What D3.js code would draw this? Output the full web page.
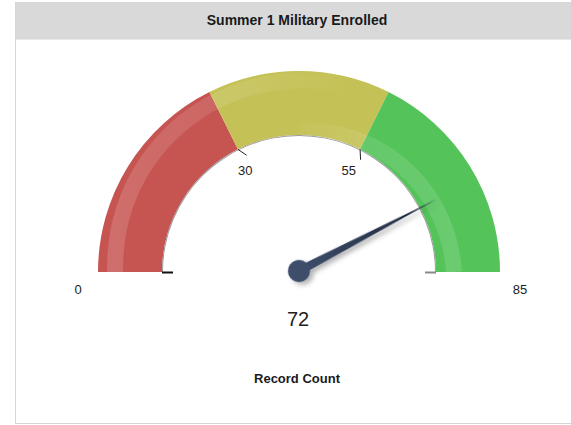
<!DOCTYPE html>
<html>
<head>
<meta charset="utf-8">
<script src="https://cdn.jsdelivr.net/npm/d3@7.9.0/dist/d3.min.js"></script>
<style>
  html, body { margin: 0; padding: 0; background: #fff; }
  svg { display: block; font-family: "Liberation Sans", Arial, sans-serif; }
</style>
</head>
<body>
<svg id="chart" width="571" height="425"></svg>
<script>
// gauge data
const title = "Summer 1 Military Enrolled";
const measureLabel = "Record Count";
const value = 72;
const rangeMin = 0;
const rangeMax = 85;
const bandStops = [0, 30, 55, 85];
const bandColors = ["#c65451", "#c4c156", "#54c35a"];
const tickValues = [30, 55];

const svg = d3.select("#chart");

// panel + header
svg.append("rect")
  .attr("x", 15.5).attr("y", 2.5)
  .attr("width", 570).attr("height", 421)
  .attr("fill", "#fff").attr("stroke", "#d6d6d6");
svg.append("rect")
  .attr("x", 16).attr("y", 3)
  .attr("width", 560).attr("height", 36)
  .attr("fill", "#d9d9d9");
svg.append("line")
  .attr("x1", 16).attr("x2", 571).attr("y1", 39.5).attr("y2", 39.5)
  .attr("stroke", "#e8e8e8");
svg.append("text")
  .attr("x", 297).attr("y", 25)
  .attr("text-anchor", "middle")
  .attr("font-size", 14).attr("font-weight", "bold")
  .attr("fill", "#1a1a1a")
  .text(title);

const cx = 299, cy = 272;
const rOuter = 201, rInner = 137;

// angle scale: value -> radians (d3.arc convention, 0 = up)
const angle = d3.scaleLinear()
  .domain([rangeMin, rangeMax])
  .range([-Math.PI / 2, Math.PI / 2]);

const g = svg.append("g").attr("transform", `translate(${cx},${cy})`);

const defs = svg.append("defs");

// band arcs
const arc = d3.arc().innerRadius(rInner).outerRadius(rOuter);
const bands = d3.pairs(bandStops).map(([a, b], i) => ({ a, b, color: bandColors[i] }));

g.selectAll("path.band")
  .data(bands)
  .join("path")
  .attr("class", "band")
  .attr("d", d => arc({ startAngle: angle(d.a), endAngle: angle(d.b) }))
  .attr("fill", d => d.color);

// glossy highlights clipped to the band
defs.append("clipPath").attr("id", "bandClip")
  .append("path")
  .attr("d", arc({ startAngle: angle(rangeMin), endAngle: angle(rangeMax) }));

const gradA = defs.append("linearGradient").attr("id", "hlA")
  .attr("gradientUnits", "userSpaceOnUse")
  .attr("x1", -200).attr("x2", 60).attr("y1", 0).attr("y2", 0);
gradA.append("stop").attr("offset", 0).attr("stop-color", "#fff").attr("stop-opacity", 0.16);
gradA.append("stop").attr("offset", 0.5).attr("stop-color", "#fff").attr("stop-opacity", 0.1);
gradA.append("stop").attr("offset", 1).attr("stop-color", "#fff").attr("stop-opacity", 0);

const gradB = defs.append("linearGradient").attr("id", "hlB")
  .attr("gradientUnits", "userSpaceOnUse")
  .attr("x1", -30).attr("x2", 160).attr("y1", 0).attr("y2", 0);
gradB.append("stop").attr("offset", 0).attr("stop-color", "#fff").attr("stop-opacity", 0);
gradB.append("stop").attr("offset", 0.5).attr("stop-color", "#fff").attr("stop-opacity", 0.1);
gradB.append("stop").attr("offset", 1).attr("stop-color", "#fff").attr("stop-opacity", 0.13);

const hl = g.append("g").attr("clip-path", "url(#bandClip)");
const radial = d3.lineRadial().curve(d3.curveBasis);

// outer highlight (left and top)
const hlAPts = d3.range(0, 1.001, 0.05).map(t => {
  const v = rangeMin + t * 0.62 * (rangeMax - rangeMin);
  return [angle(v), 184 + 8 * Math.sin(t * Math.PI / 2)];
});
hl.append("path")
  .attr("d", radial(hlAPts))
  .attr("fill", "none")
  .attr("stroke", "url(#hlA)")
  .attr("stroke-width", 16);

// inner highlight (right)
const hlBPts = d3.range(0, 1.001, 0.05).map(t => {
  const v = rangeMin + (0.5 + 0.5 * t) * (rangeMax - rangeMin);
  return [angle(v), 141 + 14 * t];
});
hl.append("path")
  .attr("d", radial(hlBPts))
  .attr("fill", "none")
  .attr("stroke", "url(#hlB)")
  .attr("stroke-width", 16);

// inner edge shading
g.append("path")
  .attr("d", d3.arc().innerRadius(rInner - 1).outerRadius(rInner)
    ({ startAngle: angle(rangeMin), endAngle: angle(rangeMax) }))
  .attr("fill", "#9a9a9a");

// ticks at band stops
g.selectAll("line.tick")
  .data(tickValues)
  .join("line")
  .attr("class", "tick")
  .attr("x1", d => Math.sin(angle(d)) * rInner)
  .attr("y1", d => -Math.cos(angle(d)) * rInner)
  .attr("x2", d => Math.sin(angle(d) + 0.04) * (rInner - 9))
  .attr("y2", d => -Math.cos(angle(d) + 0.04) * (rInner - 9))
  .attr("stroke", "#222").attr("stroke-width", 1);

g.selectAll("text.tick")
  .data(tickValues)
  .join("text")
  .attr("class", "tick")
  .attr("x", d => Math.sin(angle(d)) * 116 - 2)
  .attr("y", d => -Math.cos(angle(d)) * 116 + 7)
  .attr("text-anchor", "middle")
  .attr("font-size", 13)
  .attr("fill", "#222")
  .text(d => d);

// end ticks
g.append("line")
  .attr("x1", -rInner).attr("x2", -rInner + 11)
  .attr("y1", 0.5).attr("y2", 0.5)
  .attr("stroke", "#111").attr("stroke-width", 2);
g.append("line")
  .attr("x1", rInner).attr("x2", rInner - 11)
  .attr("y1", 0.5).attr("y2", 0.5)
  .attr("stroke", "#888").attr("stroke-width", 2);

// min / max labels
g.append("text")
  .attr("x", -221).attr("y", 22)
  .attr("text-anchor", "middle").attr("font-size", 13).attr("fill", "#222")
  .text(rangeMin);
g.append("text")
  .attr("x", 221).attr("y", 22)
  .attr("text-anchor", "middle").attr("font-size", 13).attr("fill", "#222")
  .text(rangeMax);

// needle
const shadow = defs.append("filter").attr("id", "shadow")
  .attr("x", "-20%").attr("y", "-20%").attr("width", "140%").attr("height", "160%");
shadow.append("feDropShadow")
  .attr("dx", 2).attr("dy", 4).attr("stdDeviation", 2.5)
  .attr("flood-color", "#000").attr("flood-opacity", 0.3);

const needleGrad = defs.append("linearGradient").attr("id", "needleGrad")
  .attr("x1", 0).attr("x2", 1).attr("y1", 0).attr("y2", 0);
needleGrad.append("stop").attr("offset", 0).attr("stop-color", "#3e4e6b");
needleGrad.append("stop").attr("offset", 1).attr("stop-color", "#1b2438");

const needleLen = 156;
const needleRot = angle(value) * 180 / Math.PI - 90;
const needle = g.append("g")
  .attr("transform", `translate(0,-1) rotate(${needleRot})`)
  .attr("filter", "url(#shadow)");
needle.append("path")
  .attr("d", `M0,-4.5 L${needleLen},0 L0,4.5 Z`)
  .attr("fill", "url(#needleGrad)");
needle.append("circle")
  .attr("r", 11)
  .attr("fill", "#3e4e6b");

// value + measure label
svg.append("text")
  .attr("x", 298).attr("y", 326)
  .attr("text-anchor", "middle")
  .attr("font-size", 20).attr("fill", "#222")
  .text(value);
svg.append("text")
  .attr("x", 297).attr("y", 383)
  .attr("text-anchor", "middle")
  .attr("font-size", 13).attr("font-weight", "bold").attr("fill", "#1a1a1a")
  .text(measureLabel);
</script>
</body>
</html>
